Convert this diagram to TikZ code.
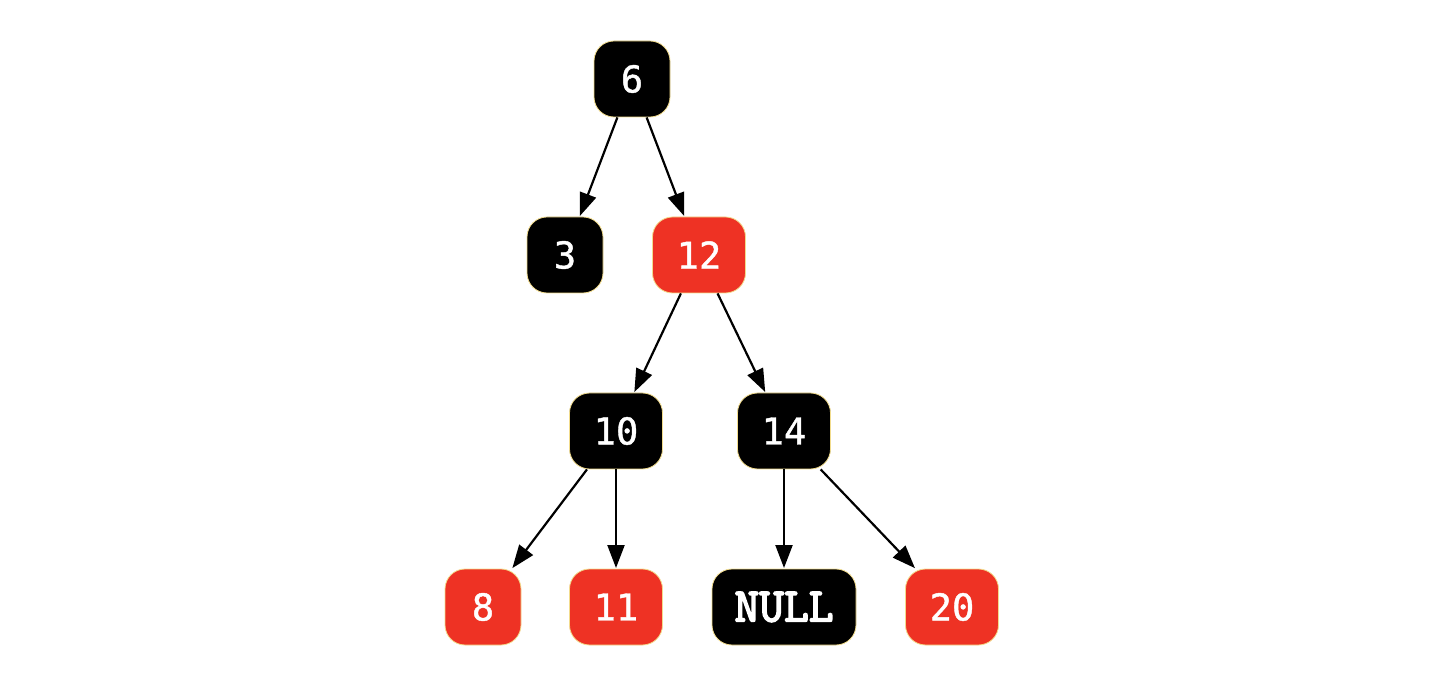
\documentclass[tikz,border=0pt]{standalone}
\usepackage{fontspec}
\usetikzlibrary{arrows.meta}
\newfontfamily\digitfont{DejaVu Sans Mono}[FakeBold=1.2]
\newfontfamily\nulltxtfont{Latin Modern Mono}[FakeBold=3.5]
\definecolor{rbred}{HTML}{EE3224}
\definecolor{rbedge}{HTML}{F2DC8C}
\tikzset{
  rb/.style={rectangle, rounded corners=10pt, draw=rbedge, line width=0.4pt,
    minimum height=38pt, inner sep=0pt, text=white,
    font=\digitfont\fontsize{18.5}{22}\selectfont},
  blk/.style={rb, fill=black},
  rd/.style={rb, fill=rbred},
  one/.style={minimum width=38pt},
  two/.style={minimum width=46.5pt},
  arr/.style={line width=1.1pt, -{Triangle[length=11.5pt,width=8.5pt]}, shorten >=0.3pt}
}
\begin{document}
\begin{tikzpicture}[x=0.5pt,y=-0.5pt]
\useasboundingbox (0,0) rectangle (1430,678);
\node[blk,one] (n6)  at (632,79)  {6};
\node[blk,one] (n3)  at (565,255) {3};
\node[rd,two]  (n12) at (699,255) {12};
\node[blk,two] (n10) at (616,431) {10};
\node[blk,two] (n14) at (784,431) {14};
\node[rd,one]  (n8)  at (483,607) {8};
\node[rd,two]  (n11) at (616,607) {11};
\node[blk,minimum width=72pt,font=\nulltxtfont\fontsize{24}{28}\selectfont] (nnull) at (784,607) {NULL};
\node[rd,two]  (n20) at (952,607) {20};
\draw[arr] (n6) -- (n3);
\draw[arr] (n6) -- (n12);
\draw[arr] (n12) -- (n10);
\draw[arr] (n12) -- (n14);
\draw[arr] (n10) -- (n8);
\draw[arr] (n10) -- (n11);
\draw[arr] (n14) -- (nnull);
\draw[arr] (n14) -- (n20);
\end{tikzpicture}
\end{document}
